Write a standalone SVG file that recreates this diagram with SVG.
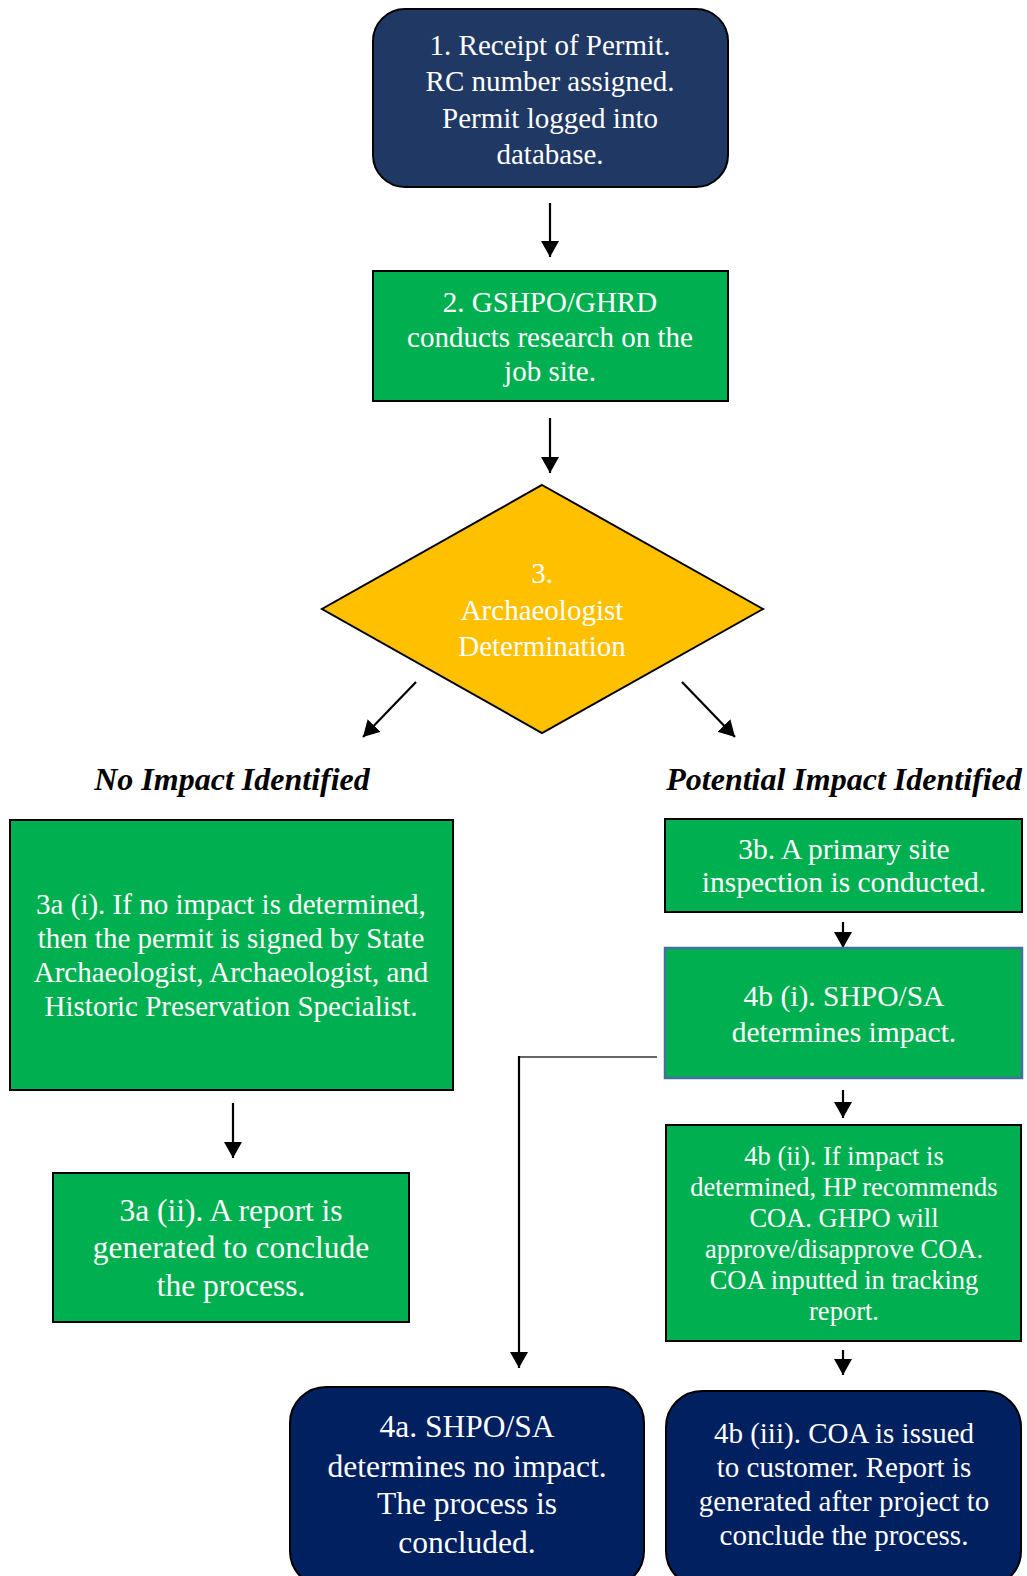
<svg xmlns="http://www.w3.org/2000/svg" width="1027" height="1576" viewBox="0 0 1027 1576">
<defs>
<marker id="ah" markerUnits="userSpaceOnUse" markerWidth="18" markerHeight="20" refX="16" refY="9" orient="auto">
<path d="M0,0 L16,9 L0,18 z" fill="#000"/>
</marker>
<style>
.t{font-family:"Liberation Serif","Times New Roman",serif;fill:#fff;text-anchor:middle}
.lbl{font-family:"Liberation Serif","Times New Roman",serif;fill:#000;text-anchor:middle;font-style:italic;font-weight:bold}
.green{fill:#00B050;stroke:#000;stroke-width:2}
.navy{fill:#002060;stroke:#000;stroke-width:2}
.conn{stroke:#000;stroke-width:2.2;fill:none}
</style>
</defs>
<rect width="1027" height="1576" fill="#fff"/>

<g id="connectors">
<line class="conn" x1="550" y1="203" x2="550" y2="257" marker-end="url(#ah)"/>
<line class="conn" x1="550" y1="418" x2="550" y2="473" marker-end="url(#ah)"/>
<line class="conn" x1="416" y1="682" x2="363" y2="737" marker-end="url(#ah)"/>
<line class="conn" x1="682" y1="682" x2="735" y2="737" marker-end="url(#ah)"/>
<line class="conn" x1="233" y1="1103" x2="233" y2="1158" marker-end="url(#ah)"/>
<line class="conn" x1="843" y1="922" x2="843" y2="948" marker-end="url(#ah)"/>
<line class="conn" x1="843" y1="1090" x2="843" y2="1118" marker-end="url(#ah)"/>
<line class="conn" x1="843" y1="1350" x2="843" y2="1375" marker-end="url(#ah)"/>
<polyline fill="none" stroke="#333" stroke-width="1.3" points="657,1057 519,1057"/>
<line class="conn" x1="519" y1="1056" x2="519" y2="1368" marker-end="url(#ah)"/>
</g>

<g id="n1">
<rect x="373" y="9" width="355" height="178" rx="32" ry="32" fill="#203864" stroke="#000" stroke-width="2"/>
<text class="t" font-size="29" x="550"><tspan x="550" y="55">1. Receipt of Permit.</tspan><tspan x="550" y="91">RC number assigned.</tspan><tspan x="550" y="128">Permit logged into</tspan><tspan x="550" y="164">database.</tspan></text>
</g>

<g id="n2">
<rect class="green" x="373" y="271" width="355" height="130"/>
<text class="t" font-size="29"><tspan x="550" y="312">2. GSHPO/GHRD</tspan><tspan x="550" y="347">conducts research on the</tspan><tspan x="550" y="381">job site.</tspan></text>
</g>

<g id="n3">
<polygon points="542,485 763,609 542,733 322,609" fill="#FFC000" stroke="#000" stroke-width="2"/>
<text class="t" font-size="29"><tspan x="542" y="583">3.</tspan><tspan x="542" y="620">Archaeologist</tspan><tspan x="542" y="656">Determination</tspan></text>
</g>

<g id="lbl-no">
<text class="lbl" font-size="32" x="232" y="790">No Impact Identified</text>
</g>
<g id="lbl-pot">
<text class="lbl" font-size="32" x="844" y="790">Potential Impact Identified</text>
</g>

<g id="n3ai">
<rect class="green" x="10" y="820" width="443" height="270"/>
<text class="t" font-size="29"><tspan x="231" y="914">3a (i). If no impact is determined,</tspan><tspan x="231" y="948">then the permit is signed by State</tspan><tspan x="231" y="982">Archaeologist, Archaeologist, and</tspan><tspan x="231" y="1016">Historic Preservation Specialist.</tspan></text>
</g>

<g id="n3aii">
<rect class="green" x="53" y="1173" width="356" height="149"/>
<text class="t" font-size="31.5"><tspan x="231" y="1221">3a (ii). A report is</tspan><tspan x="231" y="1258">generated to conclude</tspan><tspan x="231" y="1296">the process.</tspan></text>
</g>

<g id="n3b">
<rect class="green" x="665" y="819" width="357" height="93"/>
<text class="t" font-size="29.5"><tspan x="844" y="859">3b. A primary site</tspan><tspan x="844" y="892">inspection is conducted.</tspan></text>
</g>

<g id="n4bi">
<rect x="665" y="948" width="357" height="130" fill="#00B050" stroke="#41719C" stroke-width="2.5"/>
<text class="t" font-size="29.5"><tspan x="844" y="1006">4b (i). SHPO/SA</tspan><tspan x="844" y="1042">determines impact.</tspan></text>
</g>

<g id="n4bii">
<rect class="green" x="666" y="1125" width="355" height="216"/>
<text class="t" font-size="26.5"><tspan x="844" y="1165">4b (ii). If impact is</tspan><tspan x="844" y="1196">determined, HP recommends</tspan><tspan x="844" y="1227">COA. GHPO will</tspan><tspan x="844" y="1258">approve/disapprove COA.</tspan><tspan x="844" y="1289">COA inputted in tracking</tspan><tspan x="844" y="1320">report.</tspan></text>
</g>

<g id="n4a">
<rect class="navy" x="290" y="1387" width="354" height="200" rx="36" ry="36"/>
<text class="t" font-size="31.5"><tspan x="467" y="1437">4a. SHPO/SA</tspan><tspan x="467" y="1477">determines no impact.</tspan><tspan x="467" y="1514">The process is</tspan><tspan x="467" y="1553">concluded.</tspan></text>
</g>

<g id="n4biii">
<rect class="navy" x="666" y="1391" width="355" height="196" rx="36" ry="36"/>
<text class="t" font-size="29"><tspan x="844" y="1443">4b (iii). COA is issued</tspan><tspan x="844" y="1477">to customer. Report is</tspan><tspan x="844" y="1511">generated after project to</tspan><tspan x="844" y="1545">conclude the process.</tspan></text>
</g>
</svg>
